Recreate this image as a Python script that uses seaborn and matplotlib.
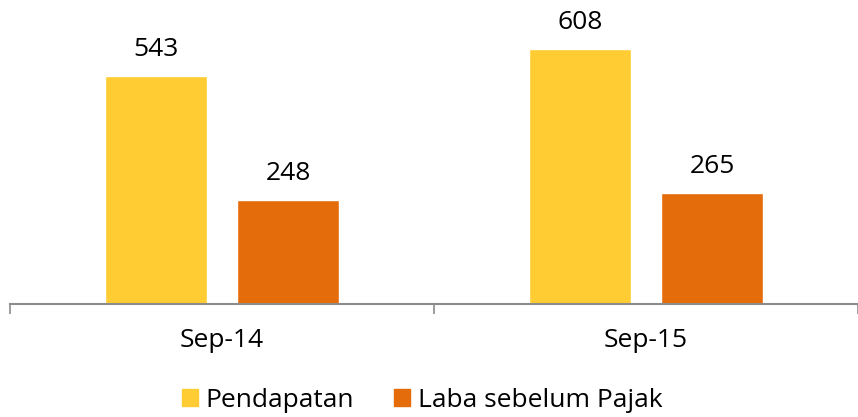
import matplotlib
matplotlib.use("Agg")
import matplotlib.pyplot as plt
import seaborn as sns
import pandas as pd

periods = ["Sep-14", "Sep-15"]
pendapatan = [543, 608]
laba_sebelum_pajak = [248, 265]
series_names = ["Pendapatan", "Laba sebelum Pajak"]
colors = ["#FFCC33", "#E46C0A"]

df = pd.DataFrame({
    "period": periods * 2,
    "value": pendapatan + laba_sebelum_pajak,
    "series": [series_names[0]] * 2 + [series_names[1]] * 2,
})

sns.set_style("white")
plt.rcParams["font.family"] = ["Open Sans", "DejaVu Sans"]
plt.rcParams["text.color"] = "black"
plt.rcParams["xtick.color"] = "black"
fs = 19

fig = plt.figure(figsize=(8.58, 4.17), dpi=100)
ax = fig.add_axes([10 / 858, 113 / 417, 1 - 10 / 858, 304 / 417])

sns.barplot(data=df, x="period", y="value", hue="series", palette=colors,
            saturation=1, width=0.624, gap=0.224, ax=ax, legend=False)

for cont in ax.containers:
    ax.bar_label(cont, fmt="%d", padding=10, fontsize=fs, color="black")

ax.set_xlim(-0.5, 1.5 - 4 / 426)
ax.set_ylim(0, 724)
ax.set_xlabel("")
ax.set_ylabel("")
ax.set_yticks([])
ax.set_xticks([-0.5, 0.5, 1.5], minor=False)
ax.set_xticklabels(["", "", ""])
ax.set_xticks([0, 1], minor=True)
ax.set_xticklabels(periods, minor=True, fontsize=fs, color="black")
ax.tick_params(axis="x", which="major", length=7, width=1.2, color="#8c8c8c",
               direction="out", bottom=True)
ax.tick_params(axis="x", which="minor", length=0, pad=17)
for s in ["top", "right", "left"]:
    ax.spines[s].set_visible(False)
ax.spines["bottom"].set_color("#8c8c8c")
ax.spines["bottom"].set_linewidth(1.5)

handles = [plt.Rectangle((0, 0), 1, 1, color=c) for c in colors]
fig.legend(handles, series_names, loc="center", bbox_to_anchor=(0.492, 0.04),
           ncol=2, frameon=False, fontsize=fs, handlelength=0.6, handleheight=0.6,
           handletextpad=0.3, columnspacing=1.5, borderpad=0, labelcolor="black")

fig.savefig("out.png", dpi=100)
